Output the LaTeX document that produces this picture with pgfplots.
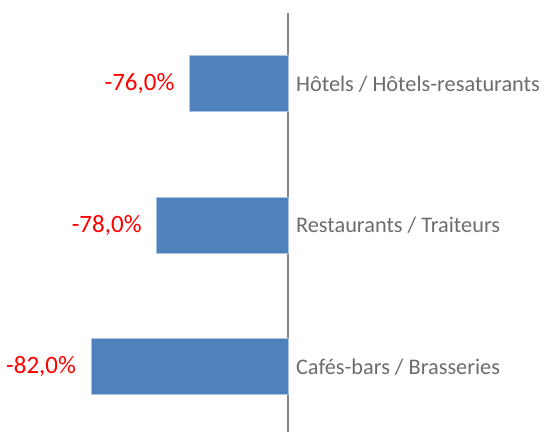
\documentclass[border=0pt]{standalone}
\usepackage{fontspec}
\setmainfont{Carlito}
\usepackage{pgfplots}
\usepackage{pgfplotstable}
\pgfplotsset{compat=1.18}
\definecolor{barblue}{RGB}{79,129,189}
\definecolor{baredge}{RGB}{170,195,228}
\definecolor{labgray}{RGB}{108,108,108}
\definecolor{axgray}{RGB}{134,134,134}

% bars start at -70 %, so the values are shifted by +70 for drawing
\pgfplotstableread{
y v
0 -82.0
1 -78.0
2 -76.0
}\datatable

\begin{document}
\begin{tikzpicture}
\begin{axis}[
    scale only axis,
    width=544pt, height=419pt,
    xbar, bar width=56pt,
    xmin=-17.56, xmax=15.6,
    ymin=-0.46, ymax=2.5,
    axis x line=none,
    axis y line*=middle,
    every inner y axis line/.append style={draw=axgray, line width=1.8pt},
    ytick={0,1,2},
    yticklabels={Cafés-bars / Brasseries, Restaurants / Traiteurs, Hôtels / Hôtels-resaturants},
    yticklabel style={anchor=west, xshift=4.5pt, font=\fontsize{22.3}{27}\selectfont, text=labgray},
    major tick length=0pt,
    point meta=explicit,
    nodes near coords={\pgfmathprintnumber{\pgfplotspointmeta}\%},
    every node near coord/.append style={anchor=east, xshift=-11.5pt, text=red, font=\fontsize{25}{29}\selectfont},
    /pgf/number format/.cd, fixed, fixed zerofill, precision=1, use comma, assume math mode=true,
    /pgfplots/.cd,
    clip=false,
]
\path (rel axis cs:0,0) rectangle ([yshift=13pt]rel axis cs:1,1);
\addplot[fill=barblue, draw=baredge, line width=0.8pt] table[x expr=\thisrow{v}+70, y=y, meta=v] {\datatable};
\end{axis}
\end{tikzpicture}
\end{document}
